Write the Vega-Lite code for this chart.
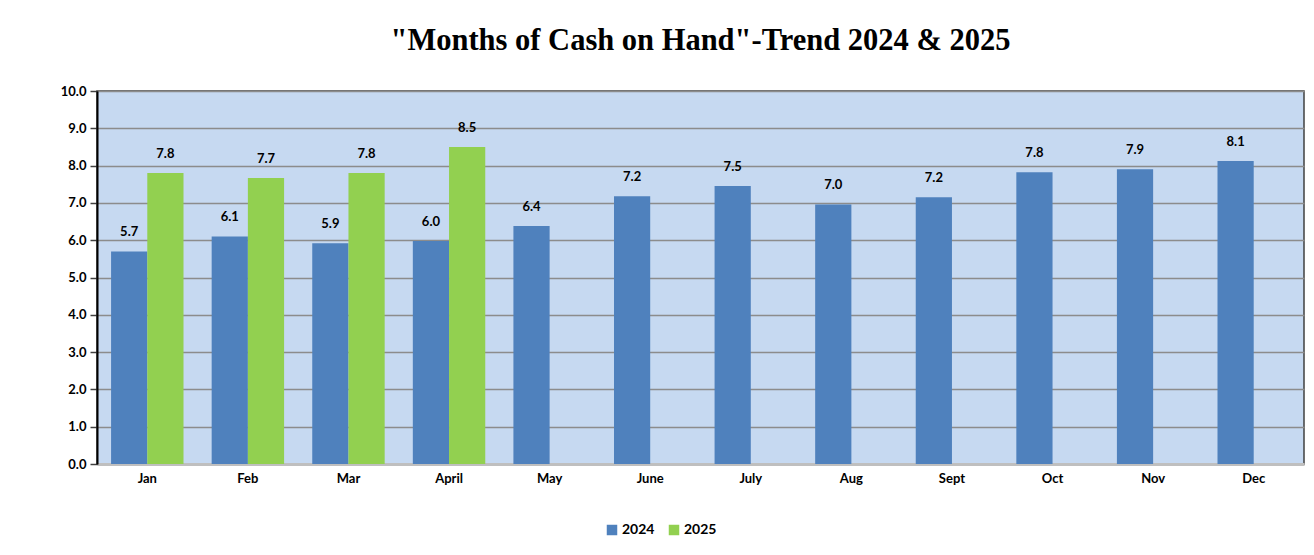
{
  "$schema": "https://vega.github.io/schema/vega-lite/v6.json",
  "autosize": {"type": "none"},
  "padding": {"left": 97, "top": 91, "right": 10, "bottom": 91},
  "width": 1207,
  "height": 373,
  "background": "#ffffff",
  "title": {
    "text": "\"Months of Cash on Hand\"-Trend 2024 & 2025",
    "anchor": "middle",
    "font": "Liberation Serif",
    "fontSize": 30.5,
    "fontWeight": "bold",
    "color": "#000000",
    "offset": 29
  },
  "data": {
    "values": [
      {"month": "Jan", "year": "2024", "value": 5.7},
      {"month": "Jan", "year": "2025", "value": 7.8},
      {"month": "Feb", "year": "2024", "value": 6.1},
      {"month": "Feb", "year": "2025", "value": 7.67},
      {"month": "Mar", "year": "2024", "value": 5.92},
      {"month": "Mar", "year": "2025", "value": 7.8},
      {"month": "April", "year": "2024", "value": 5.98},
      {"month": "April", "year": "2025", "value": 8.5},
      {"month": "May", "year": "2024", "value": 6.38},
      {"month": "June", "year": "2024", "value": 7.18},
      {"month": "July", "year": "2024", "value": 7.45},
      {"month": "Aug", "year": "2024", "value": 6.96},
      {"month": "Sept", "year": "2024", "value": 7.15},
      {"month": "Oct", "year": "2024", "value": 7.82},
      {"month": "Nov", "year": "2024", "value": 7.9},
      {"month": "Dec", "year": "2024", "value": 8.12}
    ]
  },
  "encoding": {
    "x": {
      "field": "month",
      "type": "nominal",
      "sort": ["Jan", "Feb", "Mar", "April", "May", "June", "July", "Aug", "Sept", "Oct", "Nov", "Dec"],
      "scale": {"paddingInner": 0.28, "paddingOuter": 0.14},
      "axis": {
        "title": null,
        "labelAngle": 0,
        "labelFont": "Lato",
        "labelFontSize": 13,
        "labelFontWeight": "bold",
        "labelColor": "#000000",
        "labelPadding": 8,
        "domainColor": "#BFBFBF",
        "domainWidth": 3,
        "ticks": false
      }
    },
    "xOffset": {"field": "year", "type": "nominal", "scale": {"domain": ["2024", "2025"], "paddingInner": 0, "paddingOuter": 0}},
    "y": {
      "field": "value",
      "type": "quantitative",
      "scale": {"domain": [0, 10], "nice": false},
      "axis": {
        "title": null,
        "values": [0, 1, 2, 3, 4, 5, 6, 7, 8, 9, 10],
        "format": ".1f",
        "labelFont": "Lato",
        "labelFontSize": 13,
        "labelFontWeight": "bold",
        "labelColor": "#000000",
        "labelPadding": 4,
        "domainColor": "#000000",
        "domainWidth": 2,
        "tickColor": "#404040",
        "tickSize": 7,
        "tickWidth": 1.5,
        "grid": true,
        "gridColor": "#8C8C8C",
        "gridWidth": 1.5
      }
    }
  },
  "layer": [
    {
      "mark": {"type": "bar"},
      "encoding": {
        "color": {
          "field": "year",
          "type": "nominal",
          "scale": {"domain": ["2024", "2025"], "range": ["#4F81BD", "#92D050"]},
          "legend": {
            "title": null,
            "orient": "none",
            "direction": "horizontal",
            "legendX": 508,
            "legendY": 432,
            "symbolType": "square",
            "symbolSize": 110,
            "symbolStrokeWidth": 0,
            "labelFont": "Lato",
            "labelFontSize": 14,
            "labelFontWeight": "bold",
            "labelColor": "#000000",
            "columnPadding": 12,
            "labelOffset": 3
          }
        }
      }
    },
    {
      "mark": {"type": "text", "dy": -12, "baseline": "bottom", "font": "Lato", "fontSize": 13, "fontWeight": "bold", "color": "#000000"},
      "encoding": {
        "text": {"field": "value", "type": "quantitative", "format": ".1f"}
      }
    }
  ],
  "config": {
    "view": {"fill": "#C6D9F1", "stroke": "#404040", "strokeWidth": 1.5}
  }
}
